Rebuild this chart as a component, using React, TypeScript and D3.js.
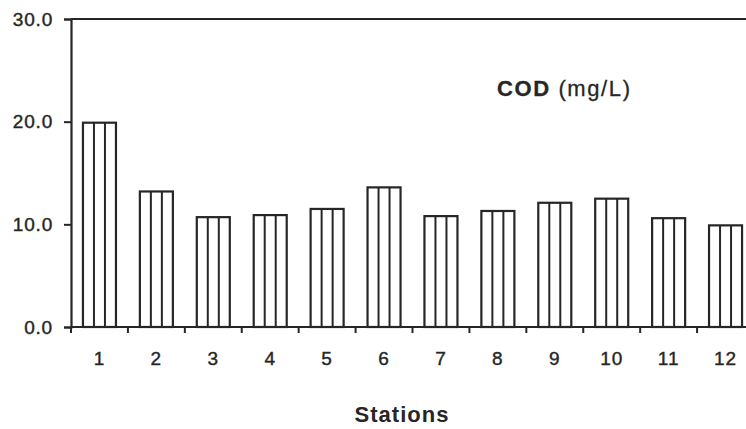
import React, { useEffect, useRef } from "react";
import { select, scaleBand, scaleLinear, axisLeft, format } from "d3";

// station numbers and COD readings (mg/L)
const stations = ["1", "2", "3", "4", "5", "6", "7", "8", "9", "10", "11", "12"];
const cod = [19.9, 13.2, 10.7, 10.9, 11.5, 13.6, 10.8, 11.3, 12.1, 12.5, 10.6, 9.9];
const yTicks = [0, 10, 20, 30];

const width = 746;
const height = 429;
const ink = "#262626";
const font = "Liberation Sans, Arial, sans-serif";

function App() {
  const svgRef = useRef<SVGSVGElement>(null);

  useEffect(() => {
    const svg = select(svgRef.current);
    svg.selectAll("*").remove();

    const data = stations.map((s, i) => ({ station: s, value: cod[i] }));

    // scales
    const xScale = scaleBand()
      .domain(stations)
      .range([71, 754])
      .paddingInner(0.42)
      .paddingOuter(0.21);

    const yScale = scaleLinear().domain([0, 30]).range([327, 19]);

    const step = xScale.step();
    const gap = (step * 0.42) / 2;

    // frame top line
    svg
      .append("line")
      .attr("x1", 71)
      .attr("x2", width)
      .attr("y1", yScale(30))
      .attr("y2", yScale(30))
      .attr("stroke", ink)
      .attr("stroke-width", 2.2);

    // bars
    const bars = svg
      .selectAll(".bar")
      .data(data)
      .join("g")
      .attr("class", "bar");

    bars
      .append("rect")
      .attr("x", d => xScale(d.station)!)
      .attr("y", d => yScale(d.value))
      .attr("width", xScale.bandwidth())
      .attr("height", d => yScale(0) - yScale(d.value))
      .attr("fill", "#fff")
      .attr("stroke", ink)
      .attr("stroke-width", 2.2);

    // vertical hatching inside bars
    bars
      .selectAll("line")
      .data(d => [1, 2].map(k => ({ d, k })))
      .join("line")
      .attr("x1", o => xScale(o.d.station)! + (xScale.bandwidth() * o.k) / 3)
      .attr("x2", o => xScale(o.d.station)! + (xScale.bandwidth() * o.k) / 3)
      .attr("y1", o => yScale(o.d.value))
      .attr("y2", yScale(0))
      .attr("stroke", ink)
      .attr("stroke-width", 2);

    // x axis line + ticks at band boundaries
    svg
      .append("line")
      .attr("x1", 71)
      .attr("x2", width)
      .attr("y1", yScale(0))
      .attr("y2", yScale(0))
      .attr("stroke", ink)
      .attr("stroke-width", 2.2);

    svg
      .selectAll(".xtick")
      .data(stations)
      .join("line")
      .attr("class", "xtick")
      .attr("x1", d => xScale(d)! - gap)
      .attr("x2", d => xScale(d)! - gap)
      .attr("y1", yScale(0))
      .attr("y2", yScale(0) + 6)
      .attr("stroke", ink)
      .attr("stroke-width", 2);

    svg
      .selectAll(".xlabel")
      .data(stations)
      .join("text")
      .attr("class", "xlabel")
      .attr("x", d => xScale(d)! + xScale.bandwidth() / 2)
      .attr("y", 365)
      .attr("text-anchor", "middle")
      .attr("font-family", font)
      .attr("font-size", 19)
      .attr("letter-spacing", 1)
      .attr("fill", ink)
      .attr("stroke", ink)
      .attr("stroke-width", 0.4)
      .text(d => d);

    // y axis
    const yAxis = axisLeft(yScale)
      .tickValues(yTicks)
      .tickFormat(format(".1f"))
      .tickSize(7)
      .tickPadding(11);

    const gy = svg
      .append("g")
      .attr("transform", "translate(71,0)")
      .call(yAxis);
    gy.select(".domain").attr("stroke", ink).attr("stroke-width", 2.2);
    gy.selectAll(".tick line").attr("stroke", ink).attr("stroke-width", 2);
    gy.selectAll(".tick text")
      .attr("font-family", font)
      .attr("font-size", 19)
      .attr("letter-spacing", 0.8)
      .attr("fill", ink)
      .attr("stroke", ink)
      .attr("stroke-width", 0.4);

    // series label
    const label = svg
      .append("text")
      .attr("x", 497)
      .attr("y", 96)
      .attr("font-family", font)
      .attr("font-size", 22)
      .attr("letter-spacing", 1.6)
      .attr("fill", ink)
      .attr("stroke", ink)
      .attr("stroke-width", 0.3);
    label.append("tspan").attr("font-weight", "bold").text("COD");
    label.append("tspan").text(" (mg/L)");

    // axis title
    svg
      .append("text")
      .attr("x", 402)
      .attr("y", 422)
      .attr("text-anchor", "middle")
      .attr("font-family", font)
      .attr("font-size", 22)
      .attr("font-weight", "bold")
      .attr("letter-spacing", 1)
      .attr("fill", ink)
      .text("Stations");
  }, []);

  return (
    <svg
      ref={svgRef}
      width={width}
      height={height}
      style={{ position: "absolute", left: 0, top: 0, background: "#fff" }}
    />
  );
}

export default App;
